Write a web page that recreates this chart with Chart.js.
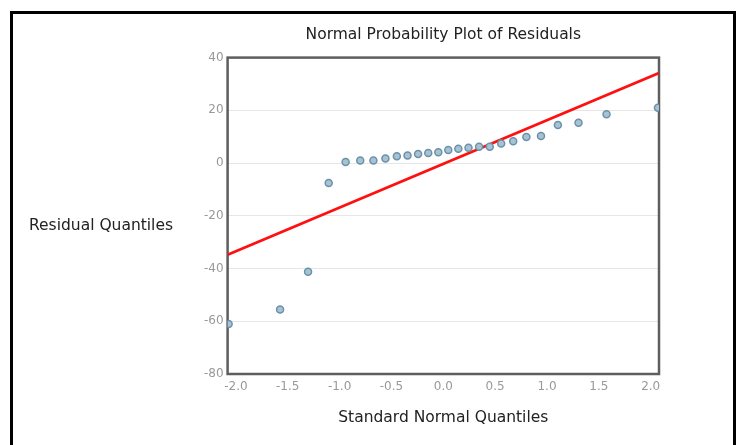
<!DOCTYPE html>
<html>
<head>
<meta charset="utf-8">
<script src="https://cdn.jsdelivr.net/npm/chart.js@4/dist/chart.umd.min.js"></script>
<style>
  html, body { margin: 0; padding: 0; background: #fff; }
  #wrap { position: relative; width: 743px; height: 445px; overflow: hidden; }
  #frame { position: absolute; left: 10px; top: 11px; width: 720px; height: 460px;
           border: 3px solid #000; pointer-events: none; }
</style>
</head>
<body>
<div id="wrap">
  <canvas id="qq"></canvas>
  <div id="frame"></div>
</div>
<script>
// normal quantiles (x) and sorted residuals (y)
const QUANTILES = [-2.070, -1.574, -1.304, -1.105, -0.942, -0.801, -0.674, -0.558, -0.448, -0.345, -0.243, -0.145, -0.048,
  0.048, 0.145, 0.243, 0.345, 0.448, 0.558, 0.674, 0.801, 0.942, 1.105, 1.304, 1.574, 2.070];
const RESIDUALS = [-61.0, -55.5, -41.2, -7.6, 0.4, 1.0, 1.0, 1.7, 2.6, 2.9, 3.4, 3.8, 4.1,
  5.0, 5.4, 5.8, 6.2, 6.2, 7.4, 8.3, 9.9, 10.3, 14.4, 15.3, 18.5, 21.0];
// reference line ends
const LINE_X = [-2.08, 2.08];
const LINE_Y = [-34.8, 34.2];
const X_TICKS = [-2.0, -1.5, -1.0, -0.5, 0.0, 0.5, 1.0, 1.5, 2.0];
const Y_TICKS = [-80, -60, -40, -20, 0, 20, 40];

const FONT = '"DejaVu Sans", sans-serif';

const zip = (xs, ys) => xs.map((x, i) => ({ x, y: ys[i] }));

// plot frame, drawn under the points
const plotBorder = {
  id: 'plotBorder',
  beforeDatasetsDraw(chart) {
    const { ctx, chartArea: a } = chart;
    ctx.save();
    ctx.strokeStyle = '#5e5e5e';
    ctx.lineWidth = 2.5;
    ctx.strokeRect(a.left, a.top, a.right - a.left, a.bottom - a.top);
    ctx.restore();
  }
};

// horizontal y-axis label to the left
const sideLabel = {
  id: 'sideLabel',
  afterDraw(chart) {
    const { ctx } = chart;
    ctx.save();
    ctx.font = '15.5px ' + FONT;
    ctx.fillStyle = '#222';
    ctx.textAlign = 'left';
    ctx.textBaseline = 'middle';
    ctx.fillText('Residual Quantiles', 29, 226);
    ctx.restore();
  }
};

new Chart(document.getElementById('qq'), {
  type: 'scatter',
  data: {
    datasets: [
      {
        label: 'Residuals',
        data: zip(QUANTILES, RESIDUALS),
        pointRadius: 3.5,
        pointBackgroundColor: '#a6c3d3',
        pointBorderColor: '#6c91a8',
        pointBorderWidth: 1.5
      },
      {
        label: 'Fit',
        data: zip(LINE_X, LINE_Y),
        showLine: true,
        borderColor: '#ff1010',
        borderWidth: 2.75,
        pointRadius: 0
      }
    ]
  },
  options: {
    responsive: true,
    maintainAspectRatio: false,
    animation: false,
    layout: { padding: { left: 200, right: 84, top: 0, bottom: 14 } },
    plugins: {
      legend: { display: false },
      tooltip: { enabled: false },
      title: {
        display: true,
        fullSize: false,
        text: 'Normal Probability Plot of Residuals',
        color: '#222',
        font: { family: FONT, size: 15.5, weight: 'normal' },
        padding: { top: 26, bottom: 13 }
      }
    },
    scales: {
      x: {
        type: 'linear',
        min: -2.08,
        max: 2.08,
        afterBuildTicks: (scale) => { scale.ticks = X_TICKS.map((v) => ({ value: v })); },
        grid: { display: false, drawTicks: false },
        border: { display: false },
        ticks: {
          color: '#999',
          padding: 6,
          font: { family: FONT, size: 12 },
          callback: (v) => Number(v).toFixed(1)
        },
        title: {
          display: true,
          text: 'Standard Normal Quantiles',
          color: '#222',
          font: { family: FONT, size: 15.5 },
          padding: { top: 8, bottom: 4 }
        }
      },
      y: {
        min: -80,
        max: 40,
        afterBuildTicks: (scale) => { scale.ticks = Y_TICKS.map((v) => ({ value: v })); },
        grid: { color: '#e6e6e6', lineWidth: 1, drawTicks: false },
        border: { display: false },
        ticks: {
          color: '#999',
          padding: 4,
          font: { family: FONT, size: 12 }
        }
      }
    }
  },
  plugins: [plotBorder, sideLabel]
});
</script>
</body>
</html>
